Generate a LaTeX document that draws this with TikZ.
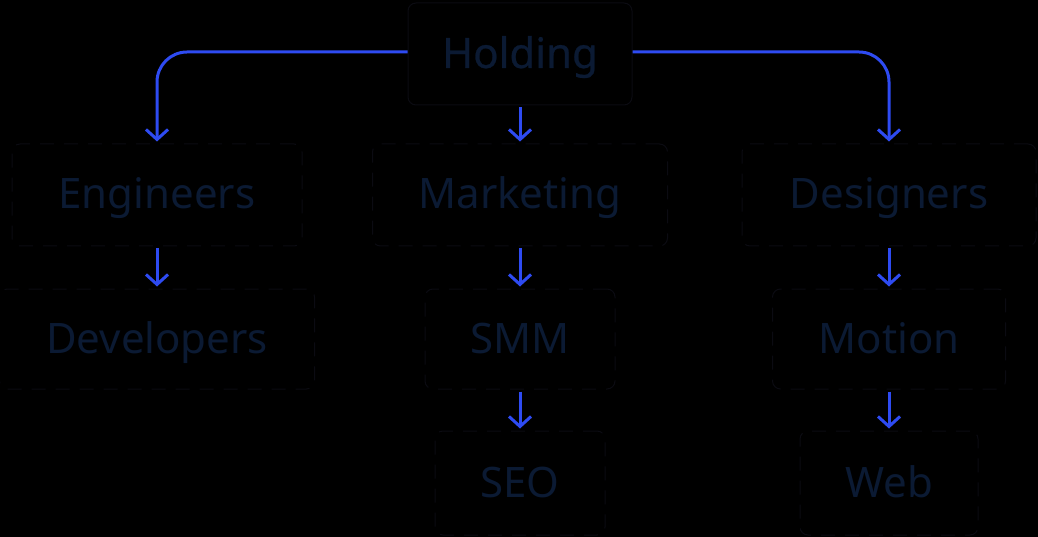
\documentclass[tikz,border=0pt]{standalone}
\usepackage{fontspec}
\setmainfont{Noto Sans}
\usetikzlibrary{arrows.meta}
\definecolor{inkblue}{HTML}{2E4BF2}
\definecolor{unittext}{HTML}{0B1A33}
\definecolor{unitline}{HTML}{0B0B12}

\begin{document}
\begin{tikzpicture}[->,>={Straight Barb[length=10pt,width=22pt]},line width=3pt,
    node distance=144pt,
    unit/.style={draw=unitline,line width=1pt,dash pattern=on 14pt off 10pt,
      rounded corners=8pt,text=unittext,font=\fontsize{42}{42}\selectfont,
      inner sep=0pt,text height=28pt,text depth=0pt},
    head/.style={unit,solid,font=\fontsize{42}{42}\selectfont\addfontfeature{FakeBold=0.6}}]

  \fill[black] (0,0) rectangle (1038pt,-537pt);
  \useasboundingbox (0,0) rectangle (1038pt,-537pt);

  \node[head,minimum width=224pt,minimum height=102pt] (hold) at (520pt,-54pt) {Holding};

  \node[unit,minimum width=290pt,minimum height=102pt] (eng) at (157pt,-195pt) {Engineers};
  \node[unit,minimum width=295pt,minimum height=102pt] (mkt) at (520pt,-195pt) {Marketing};
  \node[unit,minimum width=294pt,minimum height=102pt] (des) at (889pt,-195pt) {Designers};

  \node[unit,minimum width=315pt,minimum height=100pt] (dev) [below of=eng] {Developers};
  \node[unit,minimum width=190pt,minimum height=100pt] (smm) [below of=mkt] {SMM};
  \node[unit,minimum width=233pt,minimum height=100pt] (mot) [below of=des] {Motion};

  \node[unit,minimum width=170pt,minimum height=104pt] (seo) [below of=smm] {SEO};
  \node[unit,minimum width=178pt,minimum height=104pt] (web) [below of=mot] {Web};

  \draw[inkblue,rounded corners=30pt,shorten >=2pt] ([yshift=2pt]hold.west) -| (eng.north);
  \draw[inkblue,rounded corners=30pt,shorten >=2pt] ([yshift=2pt]hold.east) -| (des.north);

  \path[inkblue,shorten <=2pt,shorten >=2pt] (hold) edge (mkt)
  (eng) edge (dev)
  (mkt) edge (smm)
  (des) edge (mot)
  (smm) edge (seo)
  (mot) edge (web);

\end{tikzpicture}
\end{document}
